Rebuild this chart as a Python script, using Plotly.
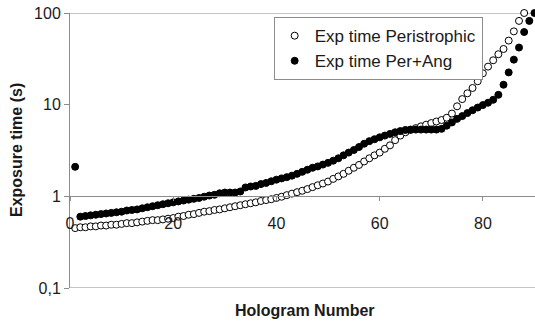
import plotly.graph_objects as go

# Data
holo_peri = list(range(1, 89))
exp_peri = [0.45, 0.46, 0.46, 0.47, 0.47, 0.48, 0.48, 0.49, 0.49, 0.50,
            0.51, 0.51, 0.52, 0.53, 0.54, 0.55, 0.55, 0.56, 0.57, 0.58,
            0.60, 0.61, 0.63, 0.64, 0.66, 0.68, 0.69, 0.71, 0.72, 0.74,
            0.76, 0.78, 0.80, 0.82, 0.84, 0.86, 0.89, 0.91, 0.93, 0.96,
            0.99, 1.03, 1.07, 1.11, 1.15, 1.20, 1.26, 1.32, 1.38, 1.45,
            1.55, 1.65, 1.76, 1.90, 2.05, 2.2, 2.4, 2.6, 2.8, 3.0,
            3.3, 3.6, 4.1, 4.6, 5.0, 5.3, 5.55, 5.8, 6.05, 6.3,
            6.55, 6.8, 7.2, 8.0, 9.6, 11.5, 13.3, 15.2, 18, 22,
            26, 30.5, 35.5, 40.5, 50, 63, 82, 100]

holo_ang = list(range(1, 91))
exp_ang = [2.1, 0.60, 0.61, 0.62, 0.63, 0.64, 0.65, 0.66, 0.67, 0.68,
           0.70, 0.71, 0.72, 0.74, 0.76, 0.78, 0.80, 0.82, 0.84, 0.86,
           0.88, 0.90, 0.92, 0.94, 0.96, 0.99, 1.02, 1.04, 1.08, 1.10,
           1.10, 1.10, 1.13, 1.25, 1.28, 1.30, 1.36, 1.40, 1.46, 1.52,
           1.57, 1.62, 1.68, 1.76, 1.85, 1.95, 2.05, 2.12, 2.22, 2.32,
           2.45, 2.60, 2.80, 3.00, 3.20, 3.45, 3.75, 4.00, 4.20, 4.40,
           4.60, 4.80, 5.00, 5.15, 5.30, 5.35, 5.35, 5.35, 5.35, 5.35,
           5.35, 5.45, 5.9, 6.4, 7.0, 7.5, 8.1, 8.7, 9.3, 9.9,
           10.5, 11.3, 12.8, 16.5, 22.5, 31, 42, 62, 82, 100]

x_ticks = [0, 20, 40, 60, 80]
y_ticks = [0.1, 1, 10, 100]
y_ticktext = ["0,1", "1", "10", "100"]

FONT = "Liberation Sans, Arial, sans-serif"
GRAY = "#8c8c8c"
TXT = "#1a1a1a"

fig = go.Figure()
fig.add_trace(go.Scatter(
    x=holo_peri, y=exp_peri, mode="markers", name="Exp time Peristrophic",
    marker=dict(symbol="circle", size=7, color="white",
                line=dict(color="black", width=1)),
    cliponaxis=False))
fig.add_trace(go.Scatter(
    x=holo_ang, y=exp_ang, mode="markers", name="Exp time Per+Ang",
    marker=dict(symbol="circle", size=7, color="black",
                line=dict(color="black", width=1)),
    cliponaxis=False))

# frame lines at 0.1 and 100
for yv in (0.1, 100):
    fig.add_shape(type="line", xref="paper", yref="y", x0=0, x1=1, y0=yv, y1=yv,
                  line=dict(color=GRAY, width=1), layer="below")

fig.update_layout(
    width=535, height=323,
    margin=dict(l=70, r=0, t=13, b=35),
    paper_bgcolor="white", plot_bgcolor="white",
    font=dict(family=FONT, size=16, color=TXT),
    showlegend=True,
    legend=dict(x=0.438, y=0.985, xanchor="left", yanchor="top",
                bgcolor="white", bordercolor=GRAY, borderwidth=1,
                font=dict(size=17, color=TXT),
                tracegroupgap=0, itemwidth=30),
    xaxis=dict(range=[0, 90.1], tickvals=x_ticks, showgrid=False, zeroline=False,
               showline=True, linecolor=GRAY, linewidth=1,
               ticks="outside", ticklen=4, tickcolor=GRAY,
               ticklabelstandoff=8,
               anchor="free", position=1/3,
               tickfont=dict(size=16, color=TXT)),
    yaxis=dict(type="log", range=[-1, 2], tickvals=y_ticks, ticktext=y_ticktext,
               showgrid=False, zeroline=False,
               showline=True, linecolor=GRAY, linewidth=1,
               ticks="outside", ticklen=5, tickcolor=GRAY,
               tickfont=dict(size=16, color=TXT)),
    annotations=[
        dict(text="<b>Hologram Number</b>", xref="paper", yref="paper",
             x=0.505, y=-0.045, yanchor="top", showarrow=False,
             font=dict(size=16, color=TXT)),
        dict(text="<b>Exposure time (s)</b>", xref="paper", yref="paper",
             x=-0.115, y=0.5, xanchor="center", yanchor="middle",
             textangle=-90, showarrow=False,
             font=dict(size=16, color=TXT)),
    ],
)

fig.write_html("out.html")
